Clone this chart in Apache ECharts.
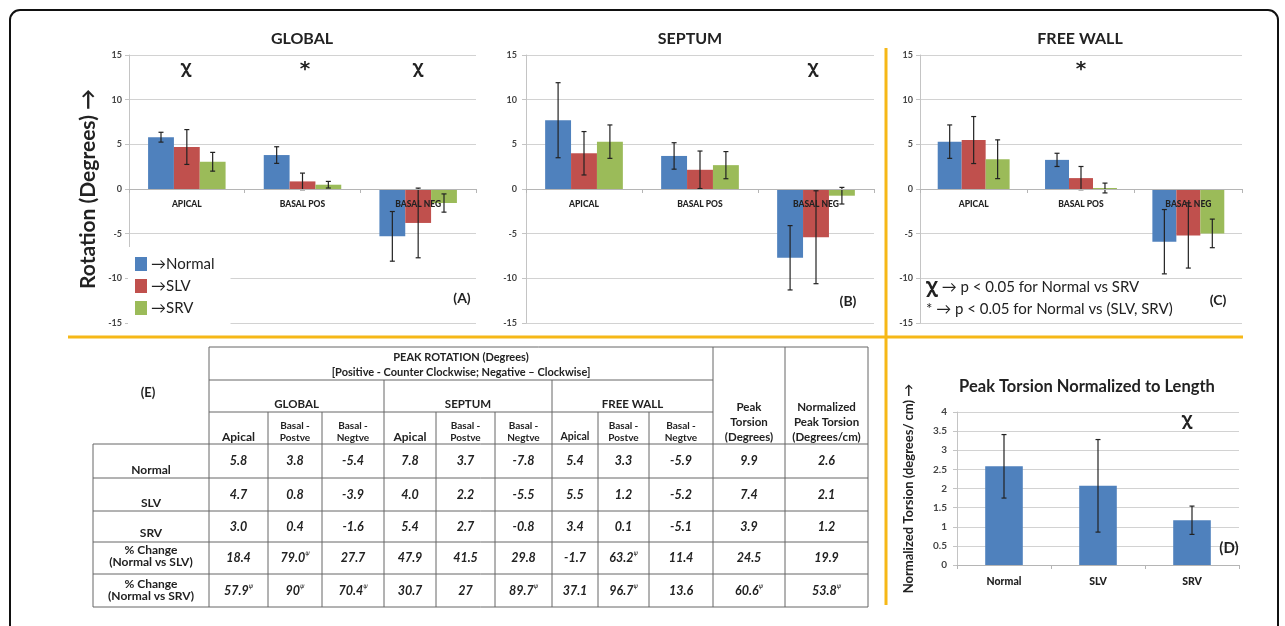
<!DOCTYPE html>
<html>
<head>
<meta charset="utf-8">
<script src="https://cdn.jsdelivr.net/npm/echarts/dist/echarts.min.js"></script>
<style>
  html, body { margin: 0; padding: 0; background: #fff; }
  #main { width: 1285px; height: 626px; }
</style>
</head>
<body>
<div id="main"></div>
<script>
// ---- data ----
var regions = ['APICAL', 'BASAL POS', 'BASAL NEG'];
var groups = ['Normal', 'SLV', 'SRV'];
var groupColors = ['#4F81BD', '#C0504D', '#9BBB59'];

// peak rotation (degrees), with error bar half lengths
var globalNormal = [5.8, 3.8, -5.3];
var globalSLV = [4.7, 0.85, -3.8];
var globalSRV = [3.05, 0.48, -1.57];
var globalNormalErr = [0.55, 0.93, 2.78];
var globalSLVErr = [1.95, 0.93, 3.9];
var globalSRVErr = [1.05, 0.37, 1.02];

var septumNormal = [7.7, 3.7, -7.7];
var septumSLV = [4.0, 2.15, -5.4];
var septumSRV = [5.3, 2.67, -0.75];
var septumNormalErr = [4.2, 1.48, 3.6];
var septumSLVErr = [2.43, 2.1, 5.2];
var septumSRVErr = [1.87, 1.52, 0.93];

var freeNormal = [5.3, 3.26, -5.9];
var freeSLV = [5.48, 1.22, -5.2];
var freeSRV = [3.33, 0.11, -4.97];
var freeNormalErr = [1.87, 0.74, 3.6];
var freeSLVErr = [2.63, 1.3, 3.65];
var freeSRVErr = [2.17, 0.55, 1.6];

var torsionCats = ['Normal', 'SLV', 'SRV'];
var torsionValues = [2.58, 2.07, 1.17];
var torsionErr = [0.83, 1.21, 0.37];

// table (E)
var regionHeads = ['GLOBAL', 'SEPTUM', 'FREE WALL'];
var subHeads = ['Apical', 'Basal -\nPostve', 'Basal -\nNegtve'];
var torsionHeads = ['Peak\nTorsion\n(Degrees)', 'Normalized\nPeak Torsion\n(Degrees/cm)'];
var rowLabels = ['Normal', 'SLV', 'SRV', '% Change\n(Normal vs SLV)', '% Change\n(Normal vs SRV)'];
// "^" marks the values flagged with a superscript psi
var tableNormal = ['5.8', '3.8', '-5.4', '7.8', '3.7', '-7.8', '5.4', '3.3', '-5.9', '9.9', '2.6'];
var tableSLV = ['4.7', '0.8', '-3.9', '4.0', '2.2', '-5.5', '5.5', '1.2', '-5.2', '7.4', '2.1'];
var tableSRV = ['3.0', '0.4', '-1.6', '5.4', '2.7', '-0.8', '3.4', '0.1', '-5.1', '3.9', '1.2'];
var tableChgSLV = ['18.4', '79.0^', '27.7', '47.9', '41.5', '29.8', '-1.7', '63.2^', '11.4', '24.5', '19.9'];
var tableChgSRV = ['57.9^', '90^', '70.4^', '30.7', '27', '89.7^', '37.1', '96.7^', '13.6', '60.6^', '53.8^'];

// ---- layout ----
var FONT = 'Lato';
var yellow = '#F6B817';
var grids = [
  { left: 129, top: 55, width: 347, height: 268 },
  { left: 526, top: 55, width: 348, height: 268 },
  { left: 920, top: 55, width: 322, height: 268 },
  { left: 957, top: 412, width: 282, height: 153 }
];
var tableCols = [93, 209, 268, 322, 384, 436, 495, 552, 598, 649, 713, 785, 868];
var tableRows = [347, 380, 412, 444, 478, 511, 542, 574, 607];

var myChart = echarts.init(document.getElementById('main'));

function catAxis(idx, data, size, margin, offset, zlevel) {
  return {
    type: 'category', gridIndex: idx, data: data, z: 5, zlevel: zlevel, offset: offset,
    axisLine: { onZero: false, lineStyle: { color: '#b5b5b5' } },
    axisTick: { show: true, length: 4, lineStyle: { color: '#b5b5b5' } },
    axisLabel: { interval: 0, fontFamily: FONT, fontWeight: 900, fontSize: size, color: '#222', margin: margin },
    splitLine: { show: false }
  };
}
function valAxis(idx, min, max, step, size, margin) {
  return {
    type: 'value', gridIndex: idx, min: min, max: max, interval: step,
    axisLine: { show: true, lineStyle: { color: '#c4c4c4' } },
    axisTick: { show: true, length: 4, lineStyle: { color: '#c4c4c4' } },
    splitLine: { lineStyle: { color: '#d2d2d2', width: 1 } },
    axisLabel: { fontFamily: FONT, fontWeight: 'bold', fontSize: size, color: '#444', margin: margin }
  };
}

function errorSeries(idx, items, gap) {
  return {
    type: 'custom', xAxisIndex: idx, yAxisIndex: idx, z: 6, silent: true,
    encode: { x: 0, y: 3 },
    data: items,
    renderItem: function (params, api) {
      var cat = api.value(0), grp = api.value(1), n = api.value(2);
      var v = api.value(3), e = api.value(4);
      var band = api.size([1, 0])[0];
      var bw = band * (1 - gap) / n;
      var x = api.coord([cat, 0])[0] + (grp - (n - 1) / 2) * bw;
      var y1 = api.coord([cat, v + e])[1];
      var y2 = api.coord([cat, v - e])[1];
      var cap = 2.5;
      var st = { stroke: '#222', lineWidth: 1.2 };
      return {
        type: 'group',
        children: [
          { type: 'line', shape: { x1: x, y1: y1, x2: x, y2: y2 }, style: st },
          { type: 'line', shape: { x1: x - cap, y1: y1, x2: x + cap, y2: y1 }, style: st },
          { type: 'line', shape: { x1: x - cap, y1: y2, x2: x + cap, y2: y2 }, style: st }
        ]
      };
    }
  };
}

var panels = [
  { vals: [globalNormal, globalSLV, globalSRV], errs: [globalNormalErr, globalSLVErr, globalSRVErr] },
  { vals: [septumNormal, septumSLV, septumSRV], errs: [septumNormalErr, septumSLVErr, septumSRVErr] },
  { vals: [freeNormal, freeSLV, freeSRV], errs: [freeNormalErr, freeSLVErr, freeSRVErr] }
];
var labelMargins = [7, 9, 7];

var xAxes = [], yAxes = [], series = [];
panels.forEach(function (p, i) {
  // symmetric -15..15 axis: lift the category axis to the zero line, labels drawn over the bars
  xAxes.push(catAxis(i, regions, 8.5, 11, -grids[i].height / 2, 1));
  yAxes.push(valAxis(i, -15, 15, 5, 9, labelMargins[i]));
  var errItems = [];
  p.vals.forEach(function (vals, g) {
    series.push({
      type: 'bar', name: groups[g], xAxisIndex: i, yAxisIndex: i,
      data: vals, barGap: '0%', barCategoryGap: '33%',
      itemStyle: { color: groupColors[g] }
    });
    vals.forEach(function (v, c) { errItems.push([c, g, 3, v, p.errs[g][c]]); });
  });
  series.push(errorSeries(i, errItems, 0.33));
});
yAxes[0].name = 'Rotation (Degrees) \u2192';
yAxes[0].nameLocation = 'middle';
yAxes[0].nameGap = 30;
yAxes[0].nameTextStyle = { fontFamily: FONT, fontWeight: 'bold', fontSize: 21, color: '#222' };

// panel D
xAxes.push(catAxis(3, torsionCats, 10.5, 11, 0, 0));
var yD = valAxis(3, 0, 4, 0.5, 10, 10);
yD.name = 'Normalized Torsion (degrees/ cm) \u2192';
yD.nameLocation = 'middle';
yD.nameGap = 42;
yD.nameTextStyle = { fontFamily: FONT, fontWeight: 'bold', fontSize: 13, color: '#222' };
yAxes.push(yD);
series.push({
  type: 'bar', name: 'Normalized torsion', xAxisIndex: 3, yAxisIndex: 3,
  data: torsionValues, barCategoryGap: '60%', itemStyle: { color: groupColors[0] }
});
series.push(errorSeries(3, torsionValues.map(function (v, c) { return [c, 0, 1, v, torsionErr[c]]; }), 0.6));

// ---- graphic: frame, dividers, titles, notes, table ----
function txt(x, y, text, font, extra) {
  var style = {
    text: text, font: font, fill: '#222',
    align: 'center', verticalAlign: 'middle',
    textAlign: 'center', textVerticalAlign: 'middle'
  };
  if (extra) for (var k in extra) style[k] = extra[k];
  return { type: 'text', x: x, y: y, z: 20, style: style };
}
function seg(x1, y1, x2, y2, color, w) {
  return { type: 'line', z: 20, shape: { x1: x1, y1: y1, x2: x2, y2: y2 }, style: { stroke: color, lineWidth: w } };
}

var g = [];
g.push({ type: 'rect', z: 1, shape: { x: 10, y: 10, width: 1268, height: 640, r: 10 }, style: { fill: null, stroke: '#111', lineWidth: 2 } });
g.push(seg(68, 337, 1243, 337, yellow, 3));
g.push(seg(886, 48, 886, 605, yellow, 3));

g.push(txt(302, 39, 'GLOBAL', 'bold 16px ' + FONT));
g.push(txt(690, 39, 'SEPTUM', 'bold 16px ' + FONT));
g.push(txt(1080, 39, 'FREE WALL', 'bold 16px ' + FONT));

var chi = 'bold 17px "Noto Sans"';
var star = 'bold 20px "DejaVu Sans"';
g.push(txt(186, 68, '\u03C7', chi));
g.push(txt(305, 70, '*', star));
g.push(txt(418, 68, '\u03C7', chi));
g.push(txt(813, 68, '\u03C7', chi));
g.push(txt(1081, 70, '*', star));
g.push(txt(1187, 420, '\u03C7', chi));

g.push(txt(462, 298, '(A)', 'bold 14px ' + FONT));
g.push(txt(848, 301, '(B)', 'bold 14px ' + FONT));
g.push(txt(1218, 300, '(C)', 'bold 14px ' + FONT));
g.push(txt(1229, 548, '(D)', 'bold 15px ' + FONT));

g.push(txt(926, 287, '{c|\u03C7} \u2192 p < 0.05 for Normal vs SRV', '15px ' + FONT,
  { align: 'left', textAlign: 'left', rich: { c: { fontFamily: 'Noto Sans', fontWeight: 'bold', fontSize: 19 } } }));
g.push(txt(926, 309, '* \u2192 p < 0.05 for Normal vs (SLV, SRV)', '15px ' + FONT, { align: 'left', textAlign: 'left' }));

g.push(txt(1087, 387, 'Peak Torsion Normalized to Length', 'bold 16.5px ' + FONT));

// table grid lines
var tc = tableCols, tr = tableRows, lc = '#666';
g.push(seg(tc[1], tr[0], tc[12], tr[0], lc, 1));
g.push(seg(tc[1], tr[1], tc[10], tr[1], lc, 1));
g.push(seg(tc[1], tr[2], tc[10], tr[2], lc, 1));
for (var r = 3; r < tr.length; r++) g.push(seg(tc[0], tr[r], tc[12], tr[r], lc, 1));
g.push(seg(tc[0], tr[3], tc[0], tr[8], lc, 1));
[1, 10, 11, 12].forEach(function (c) { g.push(seg(tc[c], tr[0], tc[c], tr[8], lc, 1)); });
[4, 7].forEach(function (c) { g.push(seg(tc[c], tr[1], tc[c], tr[8], lc, 1)); });
[2, 3, 5, 6, 8, 9].forEach(function (c) { g.push(seg(tc[c], tr[2], tc[c], tr[8], lc, 1)); });

var hb = 'bold 11px ' + FONT;
g.push(txt(148, 393, '(E)', 'bold 13px ' + FONT));
g.push(txt(461, 357, 'PEAK ROTATION (Degrees)', hb));
g.push(txt(461, 372, '[Positive - Counter Clockwise; Negative \u2013 Clockwise]', hb));
regionHeads.forEach(function (h, i) {
  g.push(txt((tc[1 + 3 * i] + tc[4 + 3 * i]) / 2, 404, h, 'bold 11.5px ' + FONT));
  subHeads.forEach(function (s, j) {
    var cx = (tc[1 + 3 * i + j] + tc[2 + 3 * i + j]) / 2;
    if (j === 0) g.push(txt(cx, 437, s, 'bold ' + (i === 2 ? 10.5 : 12) + 'px ' + FONT));
    else g.push(txt(cx, 432, s, 'bold 10px ' + FONT, { lineHeight: 12 }));
  });
});
torsionHeads.forEach(function (h, i) {
  g.push(txt((tc[10 + i] + tc[11 + i]) / 2, 422, h, 'bold 11.5px ' + FONT, { lineHeight: 15 }));
});
var labelY = [470, 503, 533, 556, 590];
rowLabels.forEach(function (l, i) {
  g.push(txt(151, labelY[i], l, 'bold 12px ' + FONT, { lineHeight: 12 }));
});
var tableData = [tableNormal, tableSLV, tableSRV, tableChgSLV, tableChgSRV];
tableData.forEach(function (row, i) {
  var cy = (tr[3 + i] + tr[4 + i]) / 2;
  row.forEach(function (v, j) {
    var cx = (tc[1 + j] + tc[2 + j]) / 2;
    var sig = v.indexOf('^') >= 0;
    var t = sig ? '{v|' + v.replace('^', '') + '}{s|\u03C8}' : '{v|' + v + '}';
    g.push(txt(cx, cy, t, 'italic bold 12px ' + FONT, {
      rich: {
        v: { fontFamily: FONT, fontStyle: 'italic', fontWeight: 'bold', fontSize: 12.5, lineHeight: 16 },
        s: { fontFamily: 'DejaVu Sans', fontStyle: 'italic', fontSize: 6.5, lineHeight: 8, verticalAlign: 'top' }
      }
    }));
  });
});

var option = {
  backgroundColor: '#fff',
  animation: false,
  textStyle: { fontFamily: FONT },
  grid: grids.map(function (gr) {
    return { left: gr.left, top: gr.top, width: gr.width, height: gr.height, containLabel: false, outerBoundsMode: 'none' };
  }),
  legend: {
    data: groups,
    orient: 'vertical',
    left: 128, top: 247,
    padding: [9, 16, 9, 7],
    backgroundColor: '#fff',
    itemWidth: 12, itemHeight: 14, itemGap: 6,
    icon: 'rect',
    selectedMode: false,
    formatter: function (name) { return '\u2192' + name; },
    textStyle: { fontFamily: FONT, fontSize: 15, color: '#222', lineHeight: 16, padding: [0, 0, 0, -1] },
    z: 8
  },
  tooltip: { show: false },
  xAxis: xAxes,
  yAxis: yAxes,
  series: series,
  graphic: { elements: g }
};
myChart.setOption(option);
</script>
</body>
</html>
